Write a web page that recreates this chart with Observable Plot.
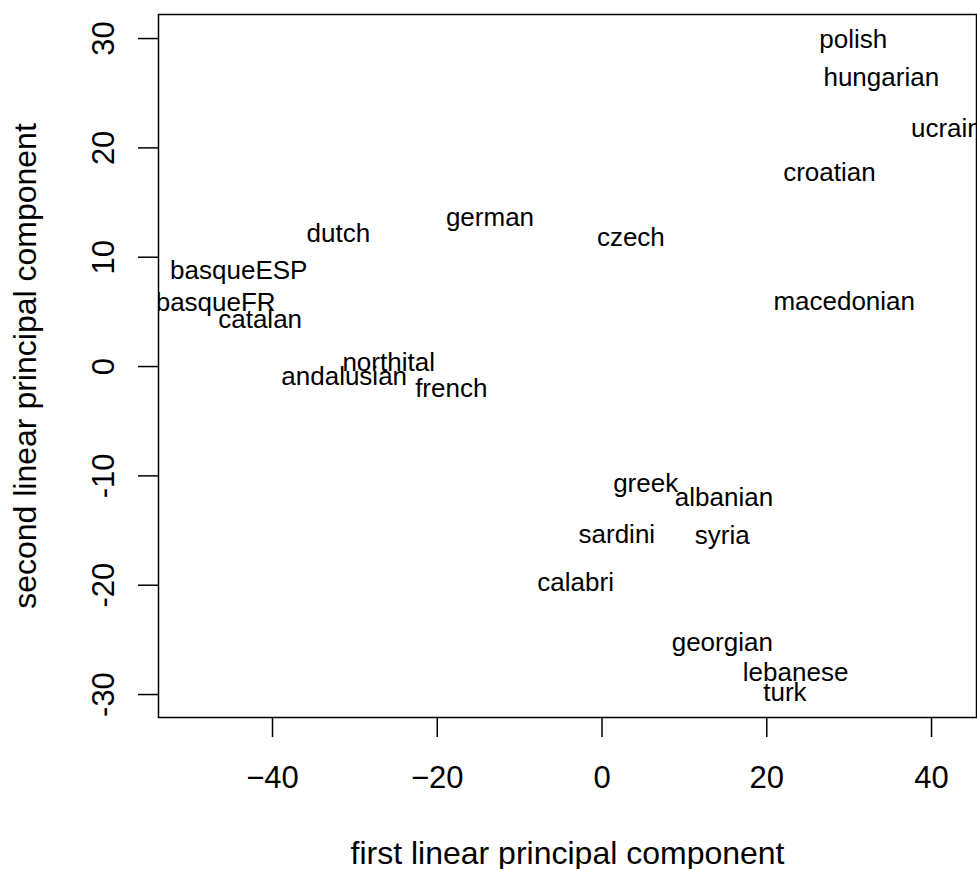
<!DOCTYPE html>
<html>
<head>
<meta charset="utf-8">
<script src="https://cdn.jsdelivr.net/npm/d3@7"></script>
<script src="https://cdn.jsdelivr.net/npm/@observablehq/plot@0.6"></script>
<style>
  html, body { margin: 0; padding: 0; background: #fff; }
  svg { display: block; }
</style>
</head>
<body>
<div id="chart"></div>
<script>
const labels = ["polish","hungarian","ucrain","croatian","german","dutch","czech","basqueESP","basqueFR","catalan","macedonian","northital","andalusian","french","greek","albanian","sardini","syria","calabri","georgian","lebanese","turk"];
const pc1 = [30.5, 33.9, 41.8, 27.6, -13.6, -32.0, 3.5, -44.1, -46.9, -41.5, 29.4, -25.9, -31.3, -18.3, 5.3, 14.8, 1.8, 14.6, -3.2, 14.6, 23.5, 22.2];
const pc2 = [29.94, 26.46, 21.8, 17.71, 13.66, 12.13, 11.83, 8.81, 5.88, 4.33, 5.97, 0.39, -0.89, -2.05, -10.74, -12.02, -15.40, -15.43, -19.73, -25.22, -28.02, -29.79];
const xTicks = [-40, -20, 0, 20, 40];
const yTicks = [-30, -20, -10, 0, 10, 20, 30];
const xTitle = "first linear principal component";
const yTitle = "second linear principal component";

const data = labels.map((name, i) => ({name, x: pc1[i], y: pc2[i]}));
const font = "Liberation Sans, Arial, Helvetica, sans-serif";

const chart = Plot.plot({
  width: 977,
  height: 869,
  marginLeft: 158,
  marginRight: 1,
  marginTop: 14,
  marginBottom: 152,
  style: {fontFamily: font, background: "#fff", color: "#000"},
  x: {domain: [-53.84, 45.46]},
  y: {domain: [-32.1, 32.2]},
  marks: [
    Plot.frame({stroke: "#000", strokeWidth: 1.5}),
    Plot.axisX({ticks: xTicks, tickSize: 20, tickPadding: 28, fontSize: 31, label: null, stroke: "#000", strokeWidth: 1.5, fill: "#000"}),
    Plot.axisY({ticks: yTicks, tickSize: 20, tickFormat: () => "", label: null, stroke: "#000", strokeWidth: 1.5}),
    Plot.text(yTicks, {y: d => d, text: d => Plot.formatNumber()(d), frameAnchor: "left", dx: -45, rotate: -90, lineAnchor: "bottom", textAnchor: "middle", fontSize: 31, fill: "#000"}),
    Plot.text([xTitle], {text: d => d, frameAnchor: "bottom", dy: 146, lineAnchor: "bottom", textAnchor: "middle", fontSize: 32, fill: "#000"}),
    Plot.text([yTitle], {text: d => d, frameAnchor: "left", dx: -123, rotate: -90, lineAnchor: "bottom", textAnchor: "middle", fontSize: 32, fill: "#000"}),
    Plot.text(data, {x: "x", y: "y", text: "name", fontSize: 26, fill: "#000", clip: true, lineAnchor: "middle"})
  ]
});
document.getElementById("chart").appendChild(chart);
</script>
</body>
</html>
